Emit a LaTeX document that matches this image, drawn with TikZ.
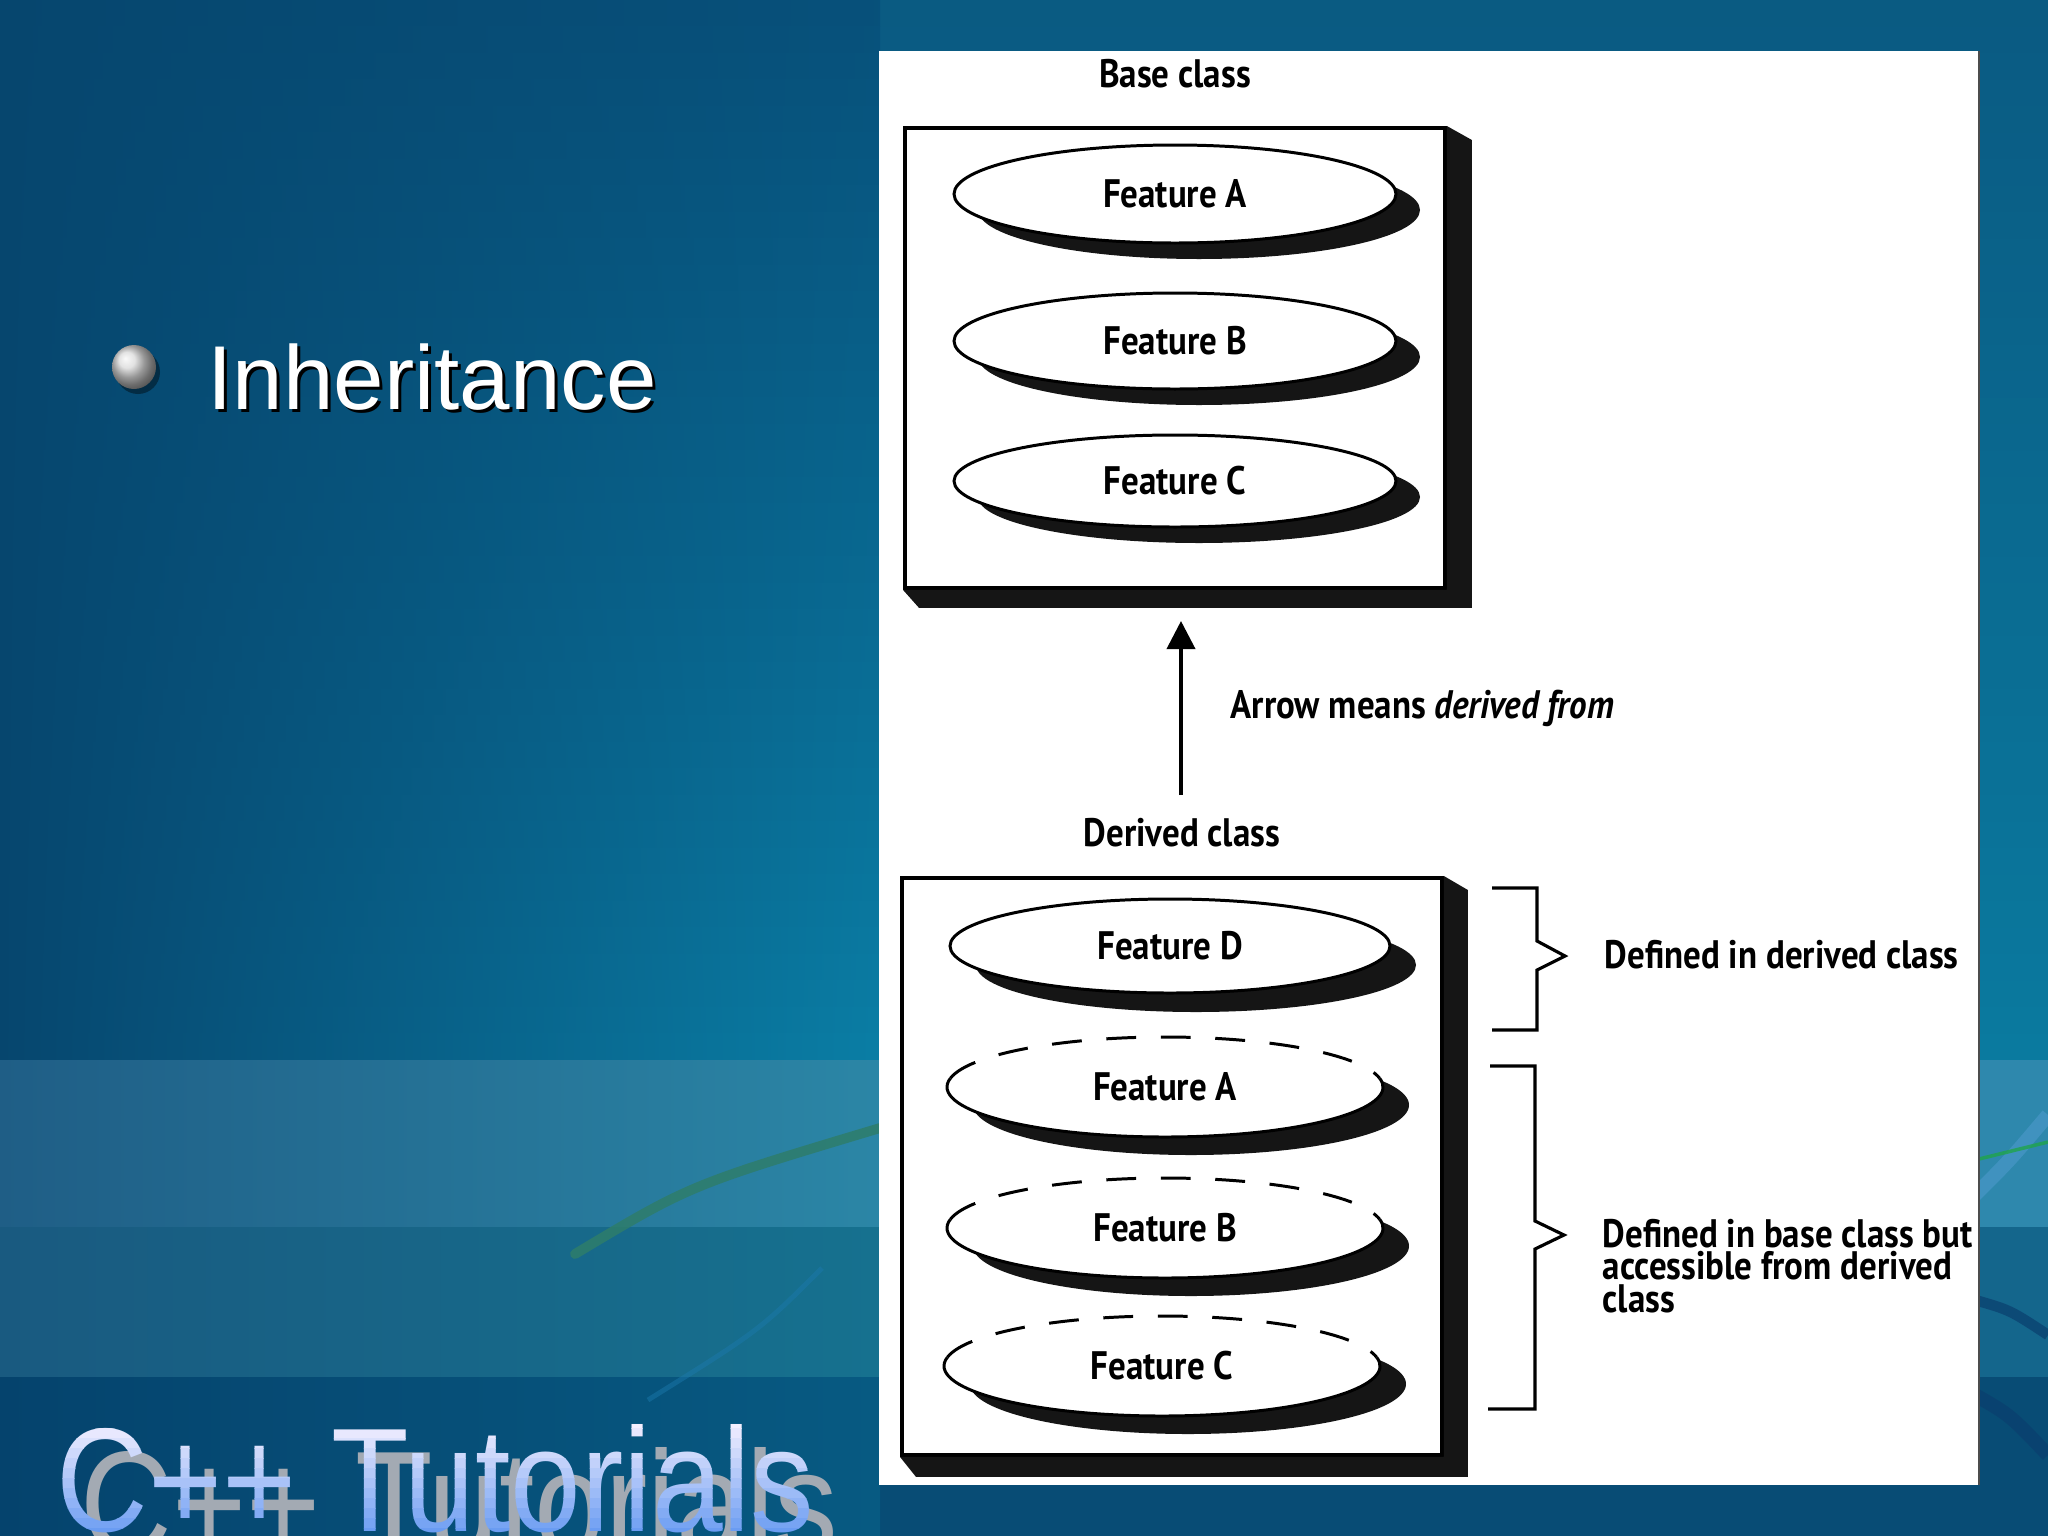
\documentclass[tikz,border=0pt]{standalone}
\usepackage{fontspec}
\setmainfont{Liberation Sans}
\newfontfamily\diafont[FakeStretch=0.88]{PT Sans}
\newfontfamily\titlefont[FakeStretch=0.86]{Liberation Sans}
\usetikzlibrary{shapes.geometric,arrows.meta,calc}
\newlength\px
\setlength\px{0.01cm}
\definecolor{bgLeft}{HTML}{06466E}
\definecolor{bgRTop}{HTML}{07507A}
\definecolor{bgRBot}{HTML}{0A7EA5}
\definecolor{stripTop}{HTML}{0A5A82}
\definecolor{stripBot}{HTML}{0A7A9F}
\definecolor{bandAL}{HTML}{1F5E86}
\definecolor{bandAR}{HTML}{2B86A6}
\definecolor{bandBL}{HTML}{195A80}
\definecolor{bandBR}{HTML}{16718F}
\definecolor{footL}{HTML}{05436D}
\definecolor{footR}{HTML}{075A82}
\definecolor{stripA}{HTML}{2E88AD}
\definecolor{stripB}{HTML}{14668C}
\definecolor{stripC}{HTML}{084C75}
\definecolor{streakGreen}{HTML}{2E7D6B}
\definecolor{streakBlue}{HTML}{1C7AAE}
\definecolor{swooshLight}{HTML}{4C9ACB}
\definecolor{swooshDark}{HTML}{0A3F6E}
\definecolor{inkShadow}{HTML}{151515}
\definecolor{titleTop}{HTML}{F4F0FF}
\definecolor{titleBot}{HTML}{6A9CF2}
\definecolor{titleGray}{HTML}{A3AAB3}
\tikzset{
  dtext/.style={font=\diafont\bfseries\fontsize{11.3}{9.3}\selectfont, text=black, inner sep=0pt},
  classbox/.style={draw=black, line width=1.1pt, fill=white, inner sep=0pt, anchor=north west},
  feat/.style={ellipse, fill=white, inner sep=0pt, dtext},
  featline/.style={draw=black, line width=0.85pt},
  featdash/.style={featline, dash pattern=on 8.5pt off 7pt},
  bracket/.style={draw=black, line width=0.9pt, line join=miter},
  slidetext/.style={font=\fontsize{25.8}{30}\selectfont, inner sep=0pt, anchor=base west},
  titletext/.style={font=\titlefont\fontsize{42}{46}\selectfont, inner sep=0pt, anchor=base west},
}
\begin{document}
\begin{tikzpicture}[x=0.01cm, y=-0.01cm]
\useasboundingbox (0,0) rectangle (2048,1536);
\clip (0,0) rectangle (2048,1536);
% ---------- background ----------
\foreach \i in {0,...,39}{
  \pgfmathsetmacro\ya{\i*26.5}
  \pgfmathsetmacro\yb{\i*26.5+27.5}
  \pgfmathsetmacro\pc{(\i+0.5)*2.5}
  \colorlet{rc}{bgRBot!\pc!bgRTop}
  \colorlet{sc}{stripBot!\pc!stripTop}
  \fill[sc] (878,\ya) rectangle (2048,\yb);
  \shade[left color=bgLeft, right color=rc] (0,\ya) rectangle (880,\yb);
}
\fill[stripA] (878,1060) rectangle (2048,1228);
\shade[left color=bandAL, right color=bandAR] (0,1060) rectangle (880,1228);
\fill[stripB] (878,1227) rectangle (2048,1378);
\shade[left color=bandBL, right color=bandBR] (0,1227) rectangle (880,1378);
\fill[stripC] (878,1377) rectangle (2048,1536);
\shade[left color=footL, right color=footR] (0,1377) rectangle (880,1536);
\draw[streakGreen, line width=2.8pt, line cap=round, opacity=.85] (575,1254) .. controls (690,1185) .. (880,1128);
\draw[streakBlue, line width=1.4pt, opacity=.45] (648,1400) .. controls (760,1330) .. (822,1268);
\draw[swooshLight, line width=4pt, opacity=.6] (1975,1195) .. controls (2010,1160) .. (2048,1115);
\draw[streakGreen!70!green, line width=1pt, opacity=.8] (1975,1160) -- (2048,1142);
\draw[swooshDark, line width=3pt, opacity=.7] (1975,1300) .. controls (2010,1310) .. (2048,1335);
\draw[swooshDark, line width=4pt, opacity=.7] (1975,1395) .. controls (2010,1415) .. (2048,1455);
% ---------- slide text ----------
\fill[black, opacity=.4] (138,372) circle [radius=22];
\node[circle, inner sep=0pt, minimum size=44\px, ball color=white!70!gray] (bullet) at (134,367) {};
\node[slidetext, text=black] (inhshadow) at (210,412) {Inheritance};
\node[slidetext, text=white] (inh) at (207,409) {Inheritance};
\node[titletext, text=titleGray] (titleshadow) at (80,1554) {C++ Tutorials};
\foreach \i in {0,...,11}{
  \pgfmathsetmacro\ya{1418+\i*10}
  \pgfmathsetmacro\pc{\i*100/11}
  \colorlet{tc}{titleBot!\pc!titleTop}
  \begin{scope}
    \clip (0,\ya) rectangle (900,\ya+10.5);
    \node[titletext, text=tc] (title\i) at (56,1531) {C++ Tutorials};
  \end{scope}
}
% ---------- panel ----------
\fill[white] (879,51) rectangle (1979,1485);
\coordinate (panelNE) at (1979,51);
\coordinate (panelSE) at (1979,1485);
\draw[black!70, line width=0.6pt] (panelNE) -- (panelSE);
% ---------- base class ----------
\node[dtext] (baselbl) at (1175,74) {Base class};
\node[classbox, minimum width=540\px, minimum height=460\px] (basebox) at (903,126) {};
\fill[inkShadow] (basebox.north east) -- ++(25,14) -- ($(basebox.south east)+(25,18)$) -- ($(basebox.south west)+(16,18)$) -- (basebox.south west) -- (basebox.south east) -- cycle;
\foreach \n/\cy/\ry/\hh/\t in {bA/194/49/98/A, bB/341/48/96/B, bC/481/46/92/C}{
  \fill[inkShadow] (1175+24,\cy+16) ellipse [x radius=221, y radius=\ry];
  \node[feat, featline, minimum width=442\px, minimum height=\hh\px] (\n) at (1175,\cy) {Feature \t};
}
% ---------- arrow ----------
\node[dtext] (derlbl) at (1182,833) {Derived class};
\coordinate (arrtail) at (1181,795);
\coordinate (arrhead) at (1181,621);
\draw[line width=1.1pt, -{Triangle[length=8pt, width=8pt]}] (arrtail) -- (arrhead);
\node[dtext, anchor=west] (arrlbl) at (1230,708) {Arrow means \itshape derived from};
% ---------- derived class ----------
\node[classbox, minimum width=540\px, minimum height=577\px] (derbox) at (900,876) {};
\fill[inkShadow] (derbox.north east) -- ++(24,14) -- ($(derbox.south east)+(24,20)$) -- ($(derbox.south west)+(16,20)$) -- (derbox.south west) -- (derbox.south east) -- cycle;
\fill[inkShadow] (1170+26,946+19) ellipse [x radius=220, y radius=47];
\node[feat, featline, minimum width=440\px, minimum height=94\px] (dD) at (1170,946) {Feature D};
\foreach \n/\cx/\cy/\t in {dA/1165/1087/A, dB/1165/1228/B, dC/1162/1366/C}{
  \fill[inkShadow] (\cx+26,\cy+18) ellipse [x radius=218, y radius=50];
  \node[feat, minimum width=436\px, minimum height=100\px] (\n) at (\cx,\cy) {Feature \t};
  \draw[featdash] ($(\n.center)+(190:218 and 50)$) arc[start angle=190, end angle=350, x radius=218, y radius=50];
  \draw[featline] ($(\n.center)+(350:218 and 50)$) arc[start angle=350, end angle=550, x radius=218, y radius=50];
}
% ---------- brackets ----------
\draw[bracket] (1492,888) -- (1537,888) -- (1537,941) -- (1565,956) -- (1537,970) -- (1537,1030) -- (1492,1030);
\draw[bracket] (1490,1066) -- (1535,1066) -- (1535,1221) -- (1564,1235) -- (1535,1249) -- (1535,1409) -- (1488,1409);
\node[dtext, anchor=west] (lblder) at (1604,955) {Defined in derived class};
\node[dtext, anchor=west, align=left] (lblbase) at (1602,1266) {Defined in base class but\\accessible from derived\\class};
\end{tikzpicture}
\end{document}
